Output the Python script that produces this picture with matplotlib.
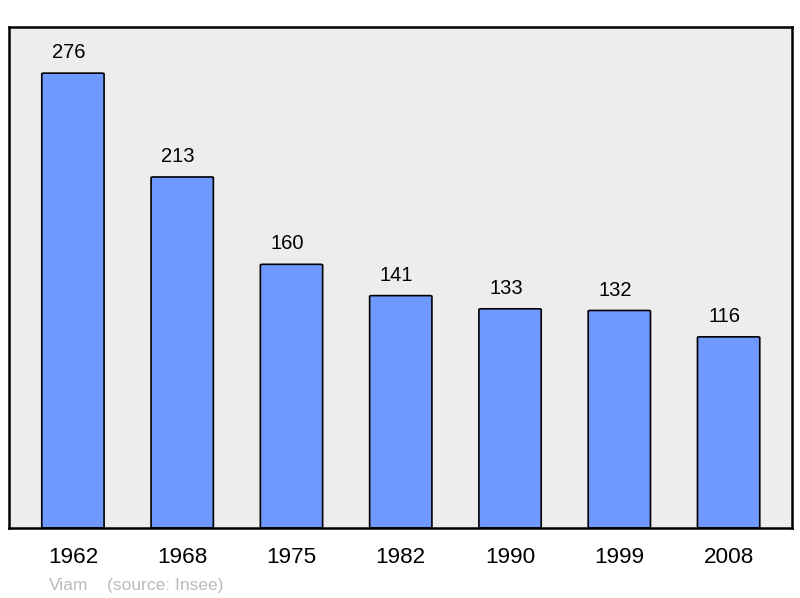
import matplotlib
matplotlib.use("Agg")
import matplotlib.pyplot as plt
from matplotlib.patches import FancyBboxPatch

plt.rcParams['font.family'] = ['Liberation Sans', 'DejaVu Sans']

years = ['1962', '1968', '1975', '1982', '1990', '1999', '2008']
population = [276, 213, 160, 141, 133, 132, 116]

fig = plt.figure(figsize=(8.0, 5.98), dpi=100)
ax = fig.add_axes([9 / 800, 1 - 528 / 598, 783 / 800, 501 / 598])
ax.set_facecolor('#ededed')

width = 0.57
for i, v in enumerate(population):
    p = FancyBboxPatch((i - width / 2, 0), width, v,
                       boxstyle="round,pad=0,rounding_size=0.02",
                       mutation_aspect=1 / 0.04,
                       facecolor='#7099ff', edgecolor='black', linewidth=1.2)
    ax.add_patch(p)
    ax.text(i - 0.037, v + 9, str(v), ha='center', va='baseline', fontsize=14.5)

ax.set_xlim(-0.585, 6.58)
ax.set_ylim(0, 304)
ax.set_xticks(range(len(years)))
ax.set_xticklabels(years, fontsize=16.2)
ax.tick_params(axis='x', length=0, pad=14)
ax.set_yticks([])
for s in ax.spines.values():
    s.set_linewidth(1.8)

fig.text(49 / 800, 1 - 590 / 598, 'Viam', color='#bbbbbb', fontsize=12.5, va='baseline')
fig.text(107 / 800, 1 - 590 / 598, '(source: Insee)', color='#bbbbbb', fontsize=12.5, va='baseline')

fig.savefig('out.png', dpi=100)
